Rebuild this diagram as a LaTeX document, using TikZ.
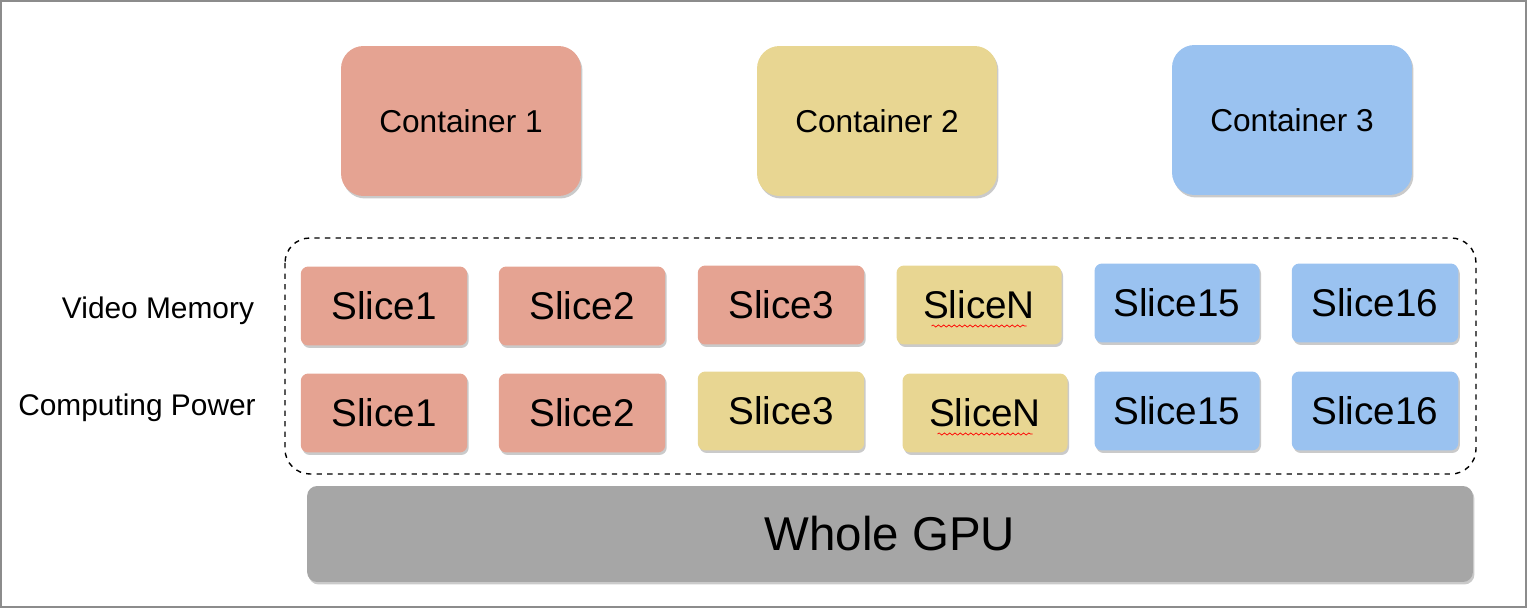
\documentclass[tikz,border=0pt]{standalone}
\usepackage{fontspec}
\setmainfont{Liberation Sans}
\usetikzlibrary{shadows,decorations.pathmorphing}
\definecolor{cr}{HTML}{E5A392}
\definecolor{cy}{HTML}{E8D692}
\definecolor{cb}{HTML}{9AC2F0}
\definecolor{cg}{HTML}{A6A6A6}
\begin{document}
\begin{tikzpicture}[x=0.02cm,y=-0.02cm,
  sh/.style={drop shadow={shadow xshift=0.03cm,shadow yshift=-0.05cm,fill=black!35,opacity=0.6}},
  cont/.style={rounded corners=0.45cm,sh,minimum width=4.8cm,minimum height=3cm,font=\fontsize{18}{20}\selectfont},
  slice/.style={rounded corners=0.15cm,sh,minimum width=3.33cm,minimum height=1.58cm,font=\fontsize{22}{24}\selectfont},
  lab/.style={font=\fontsize{17}{19}\selectfont},
  squig/.style={red,line width=0.4pt,decorate,decoration={snake,amplitude=0.6pt,segment length=3pt}}]
\draw[black!45,line width=0.6pt] (1,1) rectangle (1526,607);
\useasboundingbox (0,0) rectangle (1527,608);
\node[cont,fill=cr] (c1) at (461,121) {Container 1};
\node[cont,fill=cy] (c2) at (877,121) {Container 2};
\node[cont,fill=cb] (c3) at (1292,120) {Container 3};
\draw[dashed,line width=0.8pt,rounded corners=0.5cm] (285,238) rectangle (1476,474);
\node[lab] (vm) at (158,311) {Video Memory};
\node[lab] (cp) at (137,408) {Computing Power};
\node[slice,fill=cr] (a1) at (384,306) {Slice1};
\node[slice,fill=cr] (a2) at (582,306) {Slice2};
\node[slice,fill=cr] (a3) at (781,305) {Slice3};
\node[slice,fill=cy,minimum width=3.3cm] (a4) at (979,305) {SliceN};
\node[slice,fill=cb,minimum width=3.3cm] (a5) at (1177,303) {Slice15};
\node[slice,fill=cb] (a6) at (1375,303) {Slice16};
\node[slice,fill=cr] (b1) at (384,413) {Slice1};
\node[slice,fill=cr] (b2) at (582,413) {Slice2};
\node[slice,fill=cy] (b3) at (781,411) {Slice3};
\node[slice,fill=cy,minimum width=3.3cm] (b4) at (985,413) {SliceN};
\node[slice,fill=cb,minimum width=3.3cm] (b5) at (1177,411) {Slice15};
\node[slice,fill=cb] (b6) at (1375,411) {Slice16};
\draw[squig] ([xshift=-0.95cm,yshift=-0.42cm]a4.center) -- ([xshift=0.95cm,yshift=-0.42cm]a4.center);
\draw[squig] ([xshift=-0.95cm,yshift=-0.42cm]b4.center) -- ([xshift=0.95cm,yshift=-0.42cm]b4.center);
\node[rounded corners=0.2cm,sh,fill=cg,minimum width=23.32cm,minimum height=1.92cm,font=\fontsize{27}{29}\selectfont] (gpu) at (890,534) {Whole GPU};
\end{tikzpicture}
\end{document}
